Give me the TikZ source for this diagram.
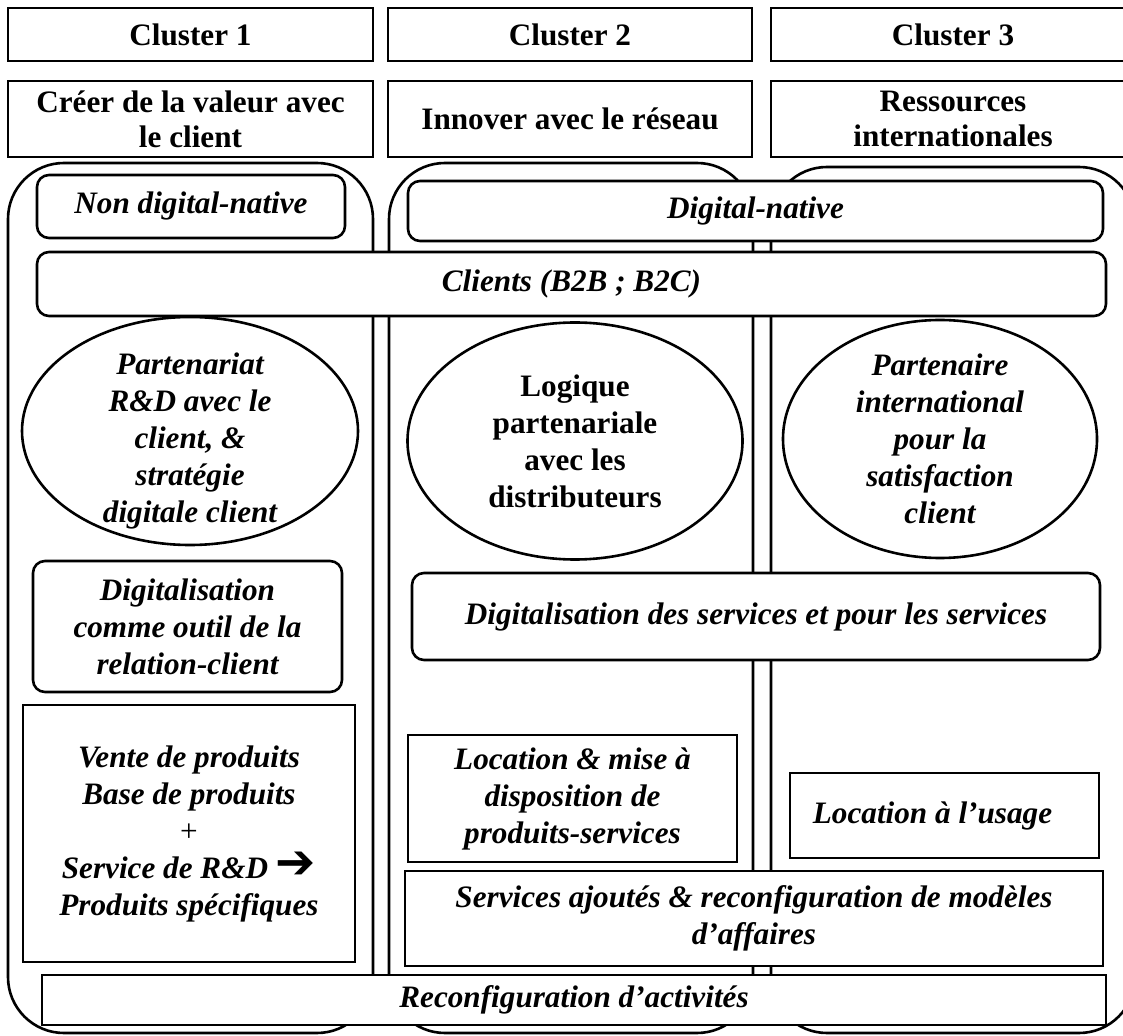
\documentclass[tikz,border=0pt]{standalone}
\usepackage{fontspec}
\setmainfont{Liberation Serif}
\newfontfamily\arrowfont{DejaVu Sans}
\usetikzlibrary{shapes.geometric}

\begin{document}
\begin{tikzpicture}[x=0.5pt,y=-0.5pt,line width=1.3pt]
        % Styles
        \tikzstyle{lane}=[rounded corners=28pt]
        \tikzstyle{header}=[draw,fill=white,inner sep=0pt,align=center,font=\fontsize{15.6}{17.5}\selectfont\bfseries]
        \tikzstyle{plain box}=[draw,fill=white,inner sep=0pt,align=center,font=\fontsize{15.6}{18.5}\selectfont\bfseries\itshape]
        \tikzstyle{round box}=[plain box,rounded corners=6pt]
        \tikzstyle{oval}=[ellipse,draw,fill=white,inner sep=0pt]
        \tikzstyle{oval text}=[align=center,font=\fontsize{15.6}{18.5}\selectfont\bfseries\itshape]
        %The graphic
        \clip (0,0) rectangle (1123,1036);
        %headers
        \node[header,minimum width=182.5pt,minimum height=26.5pt] (cl1) at (190.5,34.5) {Cluster 1};
        \node[header,minimum width=182pt,minimum height=26.5pt] (cl2) at (570,34.5) {Cluster 2};
        \node[header,minimum width=182pt,minimum height=26.5pt] (cl3) at (953,34.5) {Cluster 3};
        \node[header,minimum width=182.5pt,minimum height=38pt] (theme1) at (190.5,119) {Créer de la valeur avec\\le client};
        \node[header,minimum width=182pt,minimum height=38pt] (theme2) at (570,119) {Innover avec le réseau};
        \node[header,minimum width=182pt,minimum height=38pt] (theme3) at (953,119) {Ressources\\internationales};
        %lanes
        \draw[lane] (8,163) rectangle (373,1033);
        \draw[lane] (389,163) rectangle (753,1033);
        \draw[lane] (771,167) rectangle (1135,1033);
        %boxes
        \node[round box,minimum width=154pt,minimum height=31.5pt] (nondig) at (191,206.5) {Non digital-native};
        \node[round box,minimum width=347.5pt,minimum height=30pt] (dignat) at (755.5,211) {Digital-native};
        \node[round box,minimum width=534.5pt,minimum height=32pt] (clients) at (571.5,284) {Clients (B2B ; B2C)};
        \node[oval,minimum width=168pt,minimum height=114pt,
              label={[oval text,yshift=-5pt]center:{Partenariat\\R\&D avec le\\client, \&\\stratégie\\digitale client}}] (part1) at (190,431) {};
        \node[oval,minimum width=167.5pt,minimum height=118.5pt,
              label={[oval text,font=\fontsize{15.6}{18.5}\selectfont\bfseries]center:{Logique\\partenariale\\avec les\\distributeurs}}] (part2) at (575,441) {};
        \node[oval,minimum width=157pt,minimum height=119pt,
              label={[oval text]center:{Partenaire\\international\\pour la\\satisfaction\\client}}] (part3) at (940,439) {};
        \node[round box,minimum width=154.5pt,minimum height=65.5pt] (digcl) at (187.5,626.5) {Digitalisation\\comme outil de la\\relation-client};
        \node[round box,minimum width=344pt,minimum height=43.5pt] (digserv) at (756,616.5) {Digitalisation des services et pour les services};
        \node[plain box,minimum width=166pt,minimum height=128.5pt] (vente) at (189,833.5) {Vente de produits\\Base de produits\\{\mdseries\upshape +}\\Service de R\&D {\arrowfont\fontsize{24}{18.5}\selectfont\bfseries\upshape ➔}\\Produits spécifiques};
        \node[plain box,minimum width=164.5pt,minimum height=63.5pt] (locmise) at (572.5,798.5) {Location \& mise à\\disposition de\\produits-services};
        \node[plain box,minimum width=154.5pt,minimum height=42.5pt] (locusage) at (944.5,815.5) {Location à l’usage\hspace*{12pt}};
        \node[plain box,minimum width=349pt,minimum height=47.5pt] (servaj) at (754,918.5) {Services ajoutés \& reconfiguration de modèles\\d’affaires};
        \node[plain box,minimum width=532pt,minimum height=25pt] (reconf) at (574,1000) {Reconfiguration d’activités};
\end{tikzpicture}
\end{document}
